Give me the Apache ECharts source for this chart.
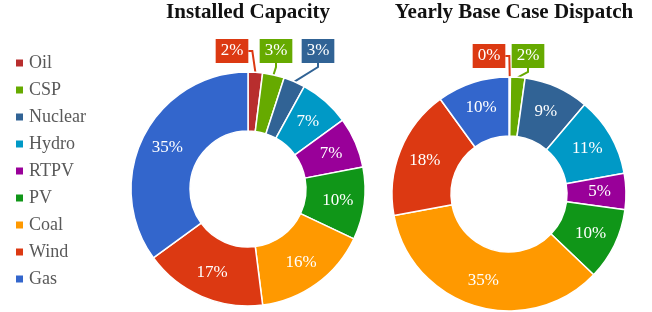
<!DOCTYPE html>
<html>
<head>
<meta charset="utf-8">
<script src="https://cdn.jsdelivr.net/npm/echarts@6/dist/echarts.min.js"></script>
<style>
  html, body { margin: 0; padding: 0; background: #fff; }
  #chart { width: 652px; height: 312px; }
</style>
</head>
<body>
<div id="chart"></div>
<script>
const categories = ['Oil', 'CSP', 'Nuclear', 'Hydro', 'RTPV', 'PV', 'Coal', 'Wind', 'Gas']
const capacityShare = [2, 3, 3, 7, 7, 10, 16, 17, 35]
const dispatchShare = [0.2, 2, 9, 11, 5, 10, 35, 18, 10]

const SLICE_COLORS = ['#b82e2e', '#66aa00', '#316395', '#0099c6', '#990099', '#109618', '#ff9900', '#dc3912', '#3366cc']
const FONT = '"Liberation Serif", "DejaVu Serif", serif'

// small slices get a boxed callout above the ring instead of an inside label
const capacityCallouts = { Oil: [232, 51], CSP: [276, 51], Nuclear: [318, 51] }
const dispatchCallouts = { Oil: [489, 56], CSP: [528, 56] }

const pct = p => Math.round(p.percent) + '%'

const buildData = (values, callouts) => values.map((v, i) => {
  const name = categories[i]
  const item = { name, value: v }
  if (callouts[name]) {
    const boxColor = name === 'Oil' ? '#dc3912' : SLICE_COLORS[i]
    item.label = {
      position: 'outside',
      backgroundColor: boxColor,
      padding: [4, 5, 3, 5]
    }
    item.labelLine = {
      show: true,
      length: 8,
      length2: 4,
      lineStyle: { color: boxColor, width: 2 }
    }
  }
  return item
})

const makePie = (name, values, callouts, center) => ({
  name,
  type: 'pie',
  center,
  radius: [58, 117],
  startAngle: 90,
  avoidLabelOverlap: false,
  itemStyle: { borderColor: '#fff', borderWidth: 1.5 },
  label: {
    position: 'inside',
    formatter: pct,
    color: '#fff',
    fontFamily: FONT,
    fontSize: 17
  },
  labelLine: { show: false },
  labelLayout: params => {
    const pos = callouts[categories[params.dataIndex]]
    if (!pos) return {}
    return { x: pos[0], y: pos[1], align: 'center', verticalAlign: 'middle' }
  },
  emphasis: { disabled: true },
  data: buildData(values, callouts)
})

const chart = echarts.init(document.getElementById('chart'))

chart.setOption({
  animation: false,
  color: SLICE_COLORS,
  title: [
    {
      text: 'Installed Capacity',
      left: 243, top: -3, textAlign: 'center',
      textStyle: { fontFamily: FONT, fontSize: 21, fontWeight: 'bold', color: '#111' }
    },
    {
      text: 'Yearly Base Case Dispatch',
      left: 509, top: -3, textAlign: 'center',
      textStyle: { fontFamily: FONT, fontSize: 21, fontWeight: 'bold', color: '#111' }
    }
  ],
  legend: {
    data: categories,
    orient: 'vertical',
    left: 9,
    top: 49,
    icon: 'rect',
    itemWidth: 9,
    itemHeight: 9,
    itemGap: 9,
    textStyle: { fontFamily: FONT, fontSize: 18, lineHeight: 18, color: '#595959' }
  },
  series: [
    makePie('Installed Capacity', capacityShare, capacityCallouts, [248, 189]),
    makePie('Yearly Base Case Dispatch', dispatchShare, dispatchCallouts, [509, 194])
  ]
})
</script>
</body>
</html>
